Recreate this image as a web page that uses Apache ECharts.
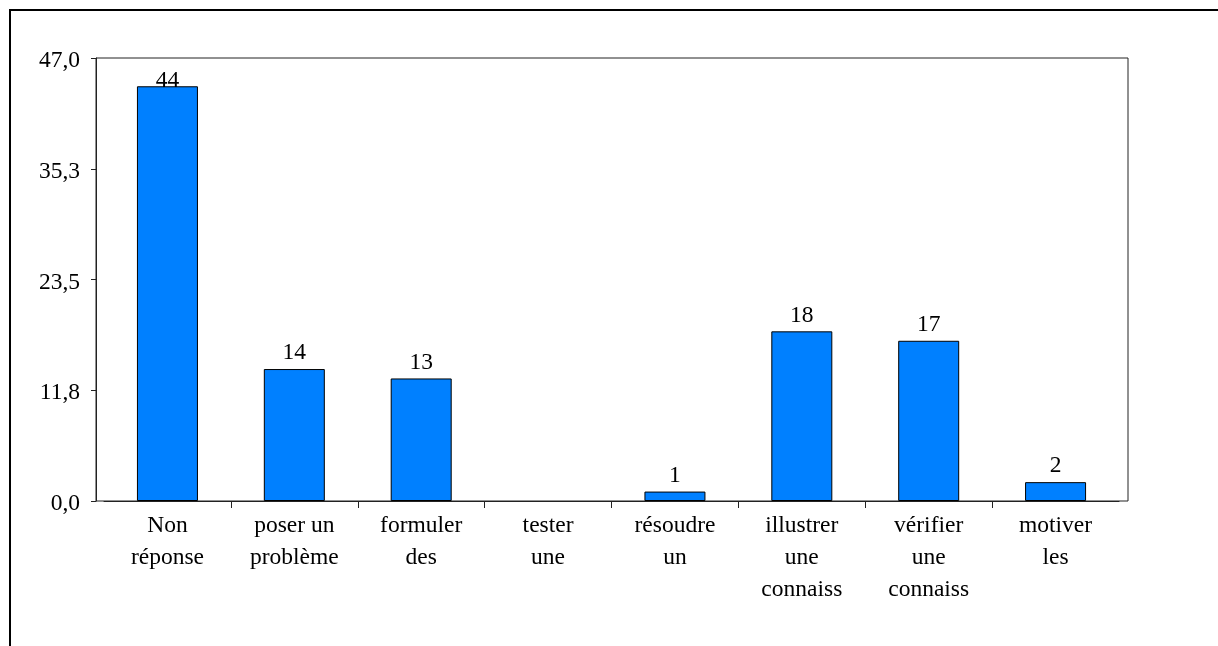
<!DOCTYPE html>
<html>
<head>
<meta charset="utf-8">
<script src="https://cdn.jsdelivr.net/npm/echarts@6/dist/echarts.min.js"></script>
<style>
html,body{margin:0;padding:0;background:#fff;}
#chart{width:1218px;height:646px;}
</style>
</head>
<body>
<div id="chart"></div>
<script>
// ---- data ----
const categories = ['Non\nréponse', 'poser un\nproblème', 'formuler\ndes', 'tester\nune', 'résoudre\nun', 'illustrer\nune\nconnaiss', 'vérifier\nune\nconnaiss', 'motiver\nles'];
const values = [44, 14, 13, 0, 1, 18, 17, 2];
const yMin = 0;
const yMax = 47;
const yInterval = 11.75;

const FONT = 'Liberation Serif';
const chart = echarts.init(document.getElementById('chart'), null, {renderer: 'canvas'});

const seriesData = values.map(v => {
  if (v === 0) return {value: v, itemStyle: {borderWidth: 0, color: 'rgba(0,0,0,0)'}};
  if (v / yMax > 0.85) return {value: v, label: {offset: [0, 11]}};
  return v;
});

const tickPositions = [];
for (let i = 1; i < categories.length; i++) tickPositions.push(i);

chart.setOption({
  backgroundColor: '#ffffff',
  animation: false,
  textStyle: {fontFamily: FONT},
  graphic: [
    {type: 'rect', shape: {x: 10, y: 10, width: 1300, height: 800}, style: {fill: 'none', stroke: '#000', lineWidth: 2}, z: 0, silent: true},
    {type: 'rect', shape: {x: 96, y: 58, width: 1032, height: 443}, style: {fill: 'none', stroke: '#222', lineWidth: 1}, z: 1, silent: true}
  ],
  grid: [
    {left: 96, right: 90, top: 58, bottom: 145, containLabel: false},
    {left: 104, right: 99, top: 58, bottom: 145, containLabel: false}
  ],
  xAxis: [{
    gridIndex: 1,
    type: 'category',
    data: categories,
    axisLine: {show: true, lineStyle: {color: '#222', width: 1}},
    axisTick: {show: false},
    axisLabel: {
      color: '#000', fontFamily: FONT, fontSize: 23.5, lineHeight: 32, margin: 9, interval: 0
    },
    splitLine: {show: false}
  }, {
    gridIndex: 1,
    type: 'value',
    position: 'bottom',
    min: 0,
    max: categories.length,
    interval: 1,
    axisLine: {show: false},
    axisLabel: {show: false},
    splitLine: {show: false},
    axisTick: {show: true, length: 7, inside: false, customValues: tickPositions, lineStyle: {color: '#222', width: 1}}
  }, {
    gridIndex: 0,
    type: 'value',
    show: false
  }],
  yAxis: [{
    gridIndex: 0,
    type: 'value',
    min: yMin,
    max: yMax,
    interval: yInterval,
    axisLine: {show: true, lineStyle: {color: '#222', width: 1}},
    axisTick: {show: true, length: 5, inside: false, lineStyle: {color: '#222'}},
    axisLabel: {
      color: '#000', fontFamily: FONT, fontSize: 23.5, margin: 16,
      formatter: v => '{a|' + v.toFixed(1).replace('.', ',') + '}',
      rich: {a: {fontFamily: FONT, fontSize: 23.5, color: '#000', lineHeight: 24, padding: [6, 0, 0, 0]}}
    },
    splitLine: {show: false}
  }, {
    gridIndex: 1,
    type: 'value',
    min: yMin,
    max: yMax,
    interval: yInterval,
    show: false
  }],
  series: [{
    type: 'bar',
    xAxisIndex: 0,
    yAxisIndex: 1,
    data: seriesData,
    barWidth: 61,
    itemStyle: {color: '#0080ff', borderColor: '#000', borderWidth: 1},
    label: {
      show: true, position: 'top', distance: 4, color: '#000',
      fontFamily: FONT, fontSize: 23.5,
      formatter: p => (p.value === 0 ? '' : String(p.value))
    }
  }]
});
</script>
</body>
</html>
